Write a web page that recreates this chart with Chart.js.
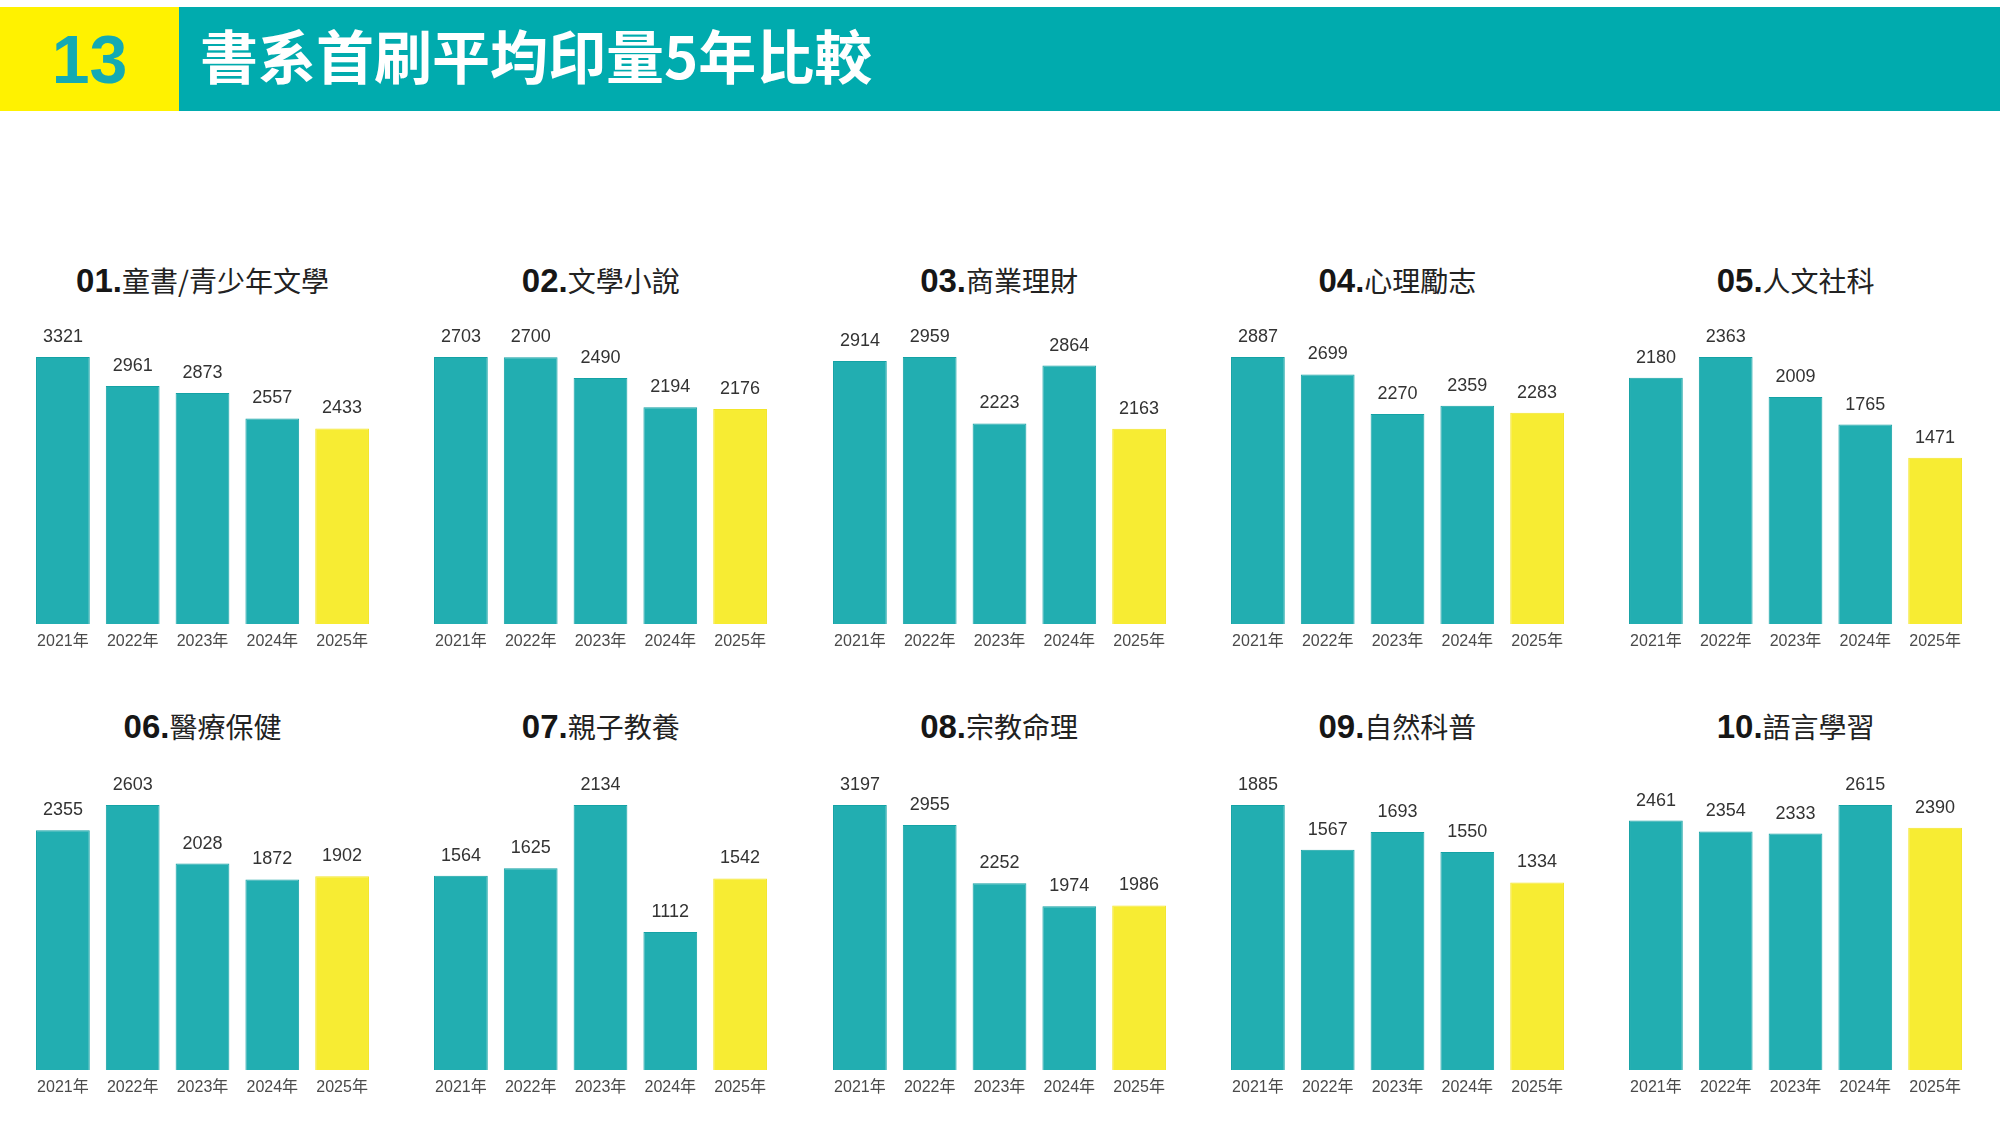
<!DOCTYPE html>
<html>
<head>
<meta charset="utf-8">
<script src="https://cdn.jsdelivr.net/npm/chart.js@4/dist/chart.umd.min.js"></script>
<style>
  html, body { margin: 0; padding: 0; background: #fff; }
  body { width: 2000px; height: 1141px; position: relative; overflow: hidden; }
  .hdr-num { position: absolute; left: 0; top: 7px; width: 179px; height: 104px; background: #fff200;
    color: #14aab3; font: bold 68px "Liberation Sans", Arial, sans-serif; text-align: center; line-height: 104px; }
  .hdr-bar { position: absolute; left: 179px; top: 7px; right: 0; height: 104px; background: #00abae; }
  .hdr-title { position: absolute; left: 200px; top: 12px; height: 104px; line-height: 104px; color: #fff;
    font: 700 58px "Noto Sans CJK TC", sans-serif; white-space: nowrap; }
  .ptitle { position: absolute; width: 398px; text-align: center; white-space: nowrap; height: 40px; line-height: 40px; }
  .ptitle b { font: bold 33px "Liberation Sans", Arial, sans-serif; color: #161616; }
  .ptitle span { font: 400 28px "Noto Sans CJK TC", sans-serif; color: #222; }
  .box { position: absolute; }
</style>
</head>
<body>
<div class="hdr-num">13</div>
<div class="hdr-bar"></div>
<div class="hdr-title">書系首刷平均印量5年比較</div>

<script>
// ========================= 資料 =========================
const years = ['2021年', '2022年', '2023年', '2024年', '2025年'];
const titleNums = ['01.', '02.', '03.', '04.', '05.', '06.', '07.', '08.', '09.', '10.'];
const titleNames = ['童書/青少年文學', '文學小說', '商業理財', '心理勵志', '人文社科',
                    '醫療保健', '親子教養', '宗教命理', '自然科普', '語言學習'];

const kids      = [3321, 2961, 2873, 2557, 2433];
const novels    = [2703, 2700, 2490, 2194, 2176];
const business  = [2914, 2959, 2223, 2864, 2163];
const selfHelp  = [2887, 2699, 2270, 2359, 2283];
const humanity  = [2180, 2363, 2009, 1765, 1471];
const health    = [2355, 2603, 2028, 1872, 1902];
const parenting = [1564, 1625, 2134, 1112, 1542];
const religion  = [3197, 2955, 2252, 1974, 1986];
const science   = [1885, 1567, 1693, 1550, 1334];
const language  = [2461, 2354, 2333, 2615, 2390];

const series = [kids, novels, business, selfHelp, humanity, health, parenting, religion, science, language];

// ========================= 版面 =========================
const colLeft = c => 28 + 398.3 * c;
const areaW = 349;
const rowTop = [357, 805];       // plot area top
const rowH = [267, 265];         // plot area height
const titleY = [280, 726];       // title centre
const padTop = 44;
const axisH = 30;

const TEAL = '#22aeb1', TEAL_B = '#14a2a5';
const YEL = '#f7ec33', YEL_B = '#f3e62a';

// 數值標籤
const valueLabels = {
  id: 'valueLabels',
  afterDatasetsDraw(chart) {
    const ctx = chart.ctx;
    const meta = chart.getDatasetMeta(0);
    const data = chart.data.datasets[0].data;
    ctx.save();
    ctx.font = '18px "Liberation Sans", Arial, sans-serif';
    ctx.fillStyle = '#333';
    ctx.textAlign = 'center';
    ctx.textBaseline = 'middle';
    meta.data.forEach((bar, i) => ctx.fillText(String(data[i]), bar.x, bar.y - 20));
    ctx.restore();
  }
};

function renderPanel(idx) {
  const row = Math.floor(idx / 5), col = idx % 5;
  const vals = series[idx];
  const left = colLeft(col);

  const t = document.createElement('div');
  t.className = 'ptitle';
  t.style.left = (left + areaW / 2 - 199) + 'px';
  t.style.top = (titleY[row] - 20) + 'px';
  t.innerHTML = '<b>' + titleNums[idx] + '</b><span>' + titleNames[idx] + '</span>';
  document.body.appendChild(t);

  const box = document.createElement('div');
  box.className = 'box';
  box.style.left = left + 'px';
  box.style.top = (rowTop[row] - padTop) + 'px';
  box.style.width = areaW + 'px';
  box.style.height = (padTop + rowH[row] + axisH) + 'px';
  const cv = document.createElement('canvas');
  box.appendChild(cv);
  document.body.appendChild(box);

  new Chart(cv.getContext('2d'), {
    type: 'bar',
    data: {
      labels: years,
      datasets: [{
        data: vals,
        backgroundColor: vals.map((v, i) => i === vals.length - 1 ? YEL : TEAL),
        borderColor: vals.map((v, i) => i === vals.length - 1 ? YEL_B : TEAL_B),
        borderWidth: 1,
        barPercentage: 0.77,
        categoryPercentage: 1
      }]
    },
    options: {
      responsive: true,
      maintainAspectRatio: false,
      animation: false,
      layout: { padding: { top: padTop, left: 0, right: 0, bottom: 0 } },
      plugins: { legend: { display: false }, tooltip: { enabled: false } },
      scales: {
        x: {
          grid: { display: false, drawTicks: false },
          border: { display: false },
          ticks: { color: '#4a4a4a', padding: 8, font: { family: '"Liberation Sans", Arial, "Noto Sans CJK TC", sans-serif', size: 16 } },
          afterFit: s => { s.height = axisH; }
        },
        y: { display: false, min: 0, max: Math.max(...vals) }
      }
    },
    plugins: [valueLabels]
  });
}

window.addEventListener('DOMContentLoaded', () => {
  for (let i = 0; i < series.length; i++) renderPanel(i);
});
</script>
</body>
</html>
